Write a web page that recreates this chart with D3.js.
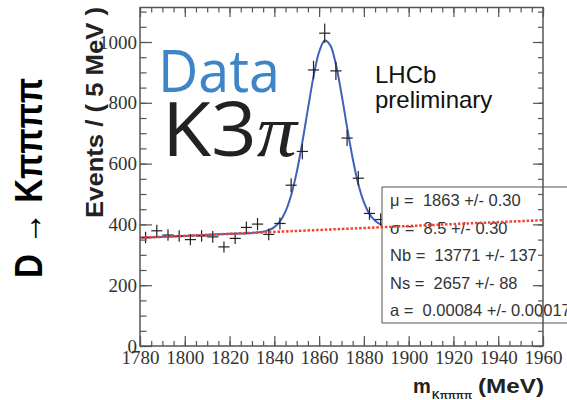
<!DOCTYPE html>
<html>
<head>
  <meta charset="utf-8">
  <title>D to K3pi mass fit</title>
  <style>
    body { margin: 0; background: #fff; }
    svg { display: block; }
  </style>
</head>
<body>
  <svg></svg>
  <script src="https://d3js.org/d3.v7.min.js"></script>
  <script>
    // data (5 MeV bins, bin centres)
    const binMass = [1782.5, 1787.5, 1792.5, 1797.5, 1802.5, 1807.5, 1812.5, 1817.5, 1822.5, 1827.5, 1832.5,
      1837.5, 1842.5, 1847.5, 1852.5, 1857.5, 1862.5, 1867.5, 1872.5, 1877.5, 1882.5, 1887.5];
    const binCounts = [357, 379, 365, 362, 350, 362, 359, 326, 354, 390, 401,
      367, 403, 529, 640, 908, 1029, 905, 684, 552, 436, 416];

    // total fit curve (blue)
    const fitMass = [1780, 1800, 1820, 1830, 1835, 1837.5, 1840, 1842.5, 1845, 1847.5, 1850, 1852.5, 1855,
      1857.5, 1860, 1862.5, 1865, 1867.5, 1870, 1872.5, 1875, 1877.5, 1880, 1882.5, 1885, 1887.5, 1890];
    const fitValues = [356, 362, 369, 372, 376, 381, 391, 410, 443, 496, 572, 670, 780,
      886, 967, 1005, 989, 926, 829, 719, 617, 533, 473, 434, 412, 400, 395];

    // background (red dotted), end points
    const bkgMass = [1780, 1960];
    const bkgValues = [356, 414];

    const xTicks = d3.range(1780, 1961, 20);
    const xMinor = d3.range(1780, 1961, 5);
    const yTicks = [0, 200, 400, 600, 800, 1000];
    const yMinor = d3.range(0, 1101, 50);

    const statLabels = ["\u03bc =", "\u03c3 =", "Nb =", "Ns =", "a ="];
    const statValues = ["1863 +/- 0.30", "8.5 +/- 0.30", "13771 +/- 137", "2657 +/- 88", "0.00084 +/- 0.00017"];

    const width = 567;
    const height = 400;
    const plot = { left: 140, right: 543, top: 7.5, bottom: 346 };

    const x = d3.scaleLinear([1780, 1960], [plot.left, plot.right]);
    const y = d3.scaleLinear([0, 1113.5], [plot.bottom, plot.top]);

    const svg = d3.select("svg")
      .attr("width", width)
      .attr("height", height)
      .attr("viewBox", [0, 0, width, height]);

    svg.append("clipPath").attr("id", "plotclip")
      .append("rect")
      .attr("x", plot.left).attr("y", plot.top)
      .attr("width", plot.right - plot.left).attr("height", plot.bottom - plot.top);

    // big decorative labels
    svg.append("text")
      .attr("x", 158).attr("y", 92)
      .attr("font-family", "'Open Sans', Lato, sans-serif")
      .attr("font-size", 58)
      .attr("fill", "#3d85c6")
      .attr("textLength", 122)
      .attr("lengthAdjust", "spacingAndGlyphs")
      .text("Data");

    const k3 = svg.append("text")
      .attr("x", 162).attr("y", 156)
      .attr("font-size", 75)
      .attr("fill", "#222")
      .attr("textLength", 135)
      .attr("lengthAdjust", "spacingAndGlyphs");
    k3.append("tspan").attr("font-family", "'Open Sans', sans-serif").text("K3");
    k3.append("tspan").attr("font-family", "'Liberation Serif', serif").attr("font-style", "italic").text("\u03c0");

    const g = svg.append("g");

    // fit curve
    g.append("path")
      .attr("clip-path", "url(#plotclip)")
      .attr("d", d3.line().curve(d3.curveCatmullRom)
        .x((d, i) => x(fitMass[i]))
        .y(d => y(d))(fitValues))
      .attr("fill", "none")
      .attr("stroke", "#4060bb")
      .attr("stroke-width", 2);

    // data points with errors
    const pts = g.selectAll("g.pt")
      .data(binCounts)
      .join("g")
      .attr("class", "pt")
      .attr("stroke", "#222")
      .attr("stroke-width", 1.2);
    pts.append("line")
      .attr("x1", (d, i) => x(binMass[i] - 2.5))
      .attr("x2", (d, i) => x(binMass[i] + 2.5))
      .attr("y1", d => y(d)).attr("y2", d => y(d));
    pts.append("line")
      .attr("x1", (d, i) => x(binMass[i]))
      .attr("x2", (d, i) => x(binMass[i]))
      .attr("y1", d => y(d - Math.sqrt(d)))
      .attr("y2", d => y(d + Math.sqrt(d)));

    // stats box
    svg.append("rect")
      .attr("x", 382).attr("y", 187)
      .attr("width", 220).attr("height", 136)
      .attr("fill", "#fff")
      .attr("stroke", "#555")
      .attr("stroke-width", 1);
    svg.append("g")
      .attr("font-family", "'Liberation Sans', Arial, sans-serif")
      .attr("font-size", 16.5)
      .attr("fill", "#333")
      .selectAll("text")
      .data(statLabels)
      .join("text")
      .attr("x", 390)
      .attr("y", (d, i) => 206 + i * 27.6)
      .style("white-space", "pre")
      .text((d, i) => d + "  " + statValues[i]);

    // background line
    svg.append("path")
      .attr("clip-path", "url(#plotclip)")
      .attr("d", d3.line().x((d, i) => x(bkgMass[i])).y(d => y(d))(bkgValues))
      .attr("fill", "none")
      .attr("stroke", "#f2412e")
      .attr("stroke-width", 2.5)
      .attr("stroke-dasharray", "2.5,1.8");

    // axes, ticks inward
    const tickCol = "#555";
    function styleAxis(sel) {
      sel.select(".domain").remove();
      sel.selectAll("line").attr("stroke", tickCol).attr("stroke-width", 1.2);
      sel.selectAll("text")
        .attr("font-family", "'Liberation Serif', 'Times New Roman', serif")
        .attr("font-size", 19)
        .attr("fill", "#333");
    }

    svg.append("g").attr("transform", `translate(0,${plot.bottom})`)
      .call(d3.axisBottom(x).tickValues(xMinor).tickSize(-5).tickFormat(""))
      .call(styleAxis);
    svg.append("g").attr("transform", `translate(0,${plot.bottom})`)
      .call(d3.axisBottom(x).tickValues(xTicks).tickSize(-10).tickPadding(5).tickFormat(d3.format("d")))
      .call(styleAxis);
    svg.append("g").attr("transform", `translate(0,${plot.top})`)
      .call(d3.axisTop(x).tickValues(xMinor).tickSize(-5).tickFormat(""))
      .call(styleAxis);
    svg.append("g").attr("transform", `translate(0,${plot.top})`)
      .call(d3.axisTop(x).tickValues(xTicks).tickSize(-9.5).tickFormat(""))
      .call(styleAxis);

    svg.append("g").attr("transform", `translate(${plot.left},0)`)
      .call(d3.axisLeft(y).tickValues(yMinor).tickSize(-6.5).tickFormat(""))
      .call(styleAxis);
    svg.append("g").attr("transform", `translate(${plot.left},0)`)
      .call(d3.axisLeft(y).tickValues(yTicks).tickSize(-12).tickPadding(3).tickFormat(d3.format("d")))
      .call(styleAxis);
    svg.append("g").attr("transform", `translate(${plot.right},0)`)
      .call(d3.axisRight(y).tickValues(yMinor).tickSize(-5).tickFormat(""))
      .call(styleAxis);
    svg.append("g").attr("transform", `translate(${plot.right},0)`)
      .call(d3.axisRight(y).tickValues(yTicks).tickSize(-10).tickFormat(""))
      .call(styleAxis);

    // frame
    svg.append("rect")
      .attr("x", plot.left).attr("y", plot.top)
      .attr("width", plot.right - plot.left).attr("height", plot.bottom - plot.top)
      .attr("fill", "none")
      .attr("stroke", tickCol)
      .attr("stroke-width", 1.5);

    // LHCb preliminary
    svg.append("g")
      .attr("font-family", "'Liberation Sans', Arial, sans-serif")
      .attr("font-size", 24)
      .attr("fill", "#111")
      .selectAll("text")
      .data(["LHCb", "preliminary"])
      .join("text")
      .attr("x", 375)
      .attr("y", (d, i) => 83 + i * 25)
      .text(d => d);

    // axis titles
    svg.append("text")
      .attr("transform", "translate(103,218) rotate(-90)")
      .attr("font-family", "'Liberation Sans', Arial, sans-serif")
      .attr("font-weight", "bold")
      .attr("font-size", 24)
      .attr("fill", "#222")
      .attr("textLength", 211)
      .attr("lengthAdjust", "spacingAndGlyphs")
      .text("Events / ( 5 MeV )");

    svg.append("text")
      .attr("transform", "translate(42,278) rotate(-90)")
      .attr("font-family", "'Liberation Sans', Arial, sans-serif")
      .attr("font-weight", "bold")
      .attr("font-size", 38)
      .attr("fill", "#000")
      .attr("textLength", 200)
      .attr("lengthAdjust", "spacingAndGlyphs")
      .text("D \u2192 K\u03c0\u03c0\u03c0\u03c0");

    const xt = svg.append("g")
      .attr("font-family", "'Liberation Sans', Arial, sans-serif")
      .attr("font-weight", "bold")
      .attr("fill", "#222");
    xt.append("text").attr("x", 413).attr("y", 392.5).attr("font-size", 20).text("m");
    xt.append("text").attr("x", 432).attr("y", 398.5).attr("font-size", 11)
      .attr("textLength", 40).attr("lengthAdjust", "spacingAndGlyphs")
      .text("K\u03c0\u03c0\u03c0\u03c0");
    xt.append("text").attr("x", 478).attr("y", 392.5).attr("font-size", 20)
      .attr("textLength", 66).attr("lengthAdjust", "spacingAndGlyphs")
      .text("(MeV)");
  </script>
</body>
</html>
